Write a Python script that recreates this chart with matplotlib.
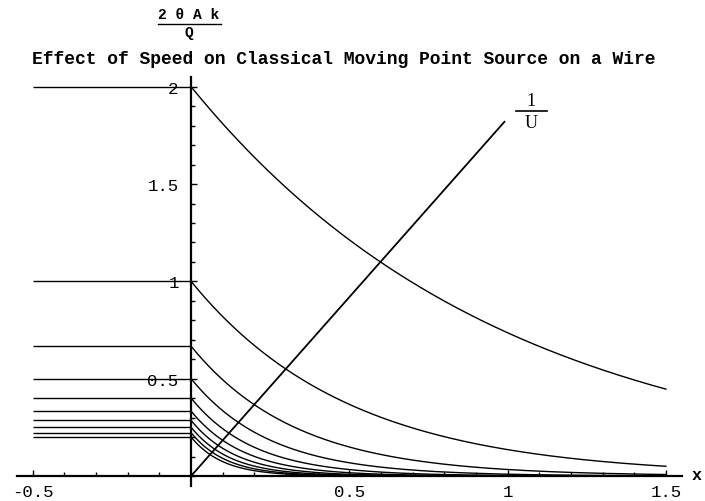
import numpy as np
import matplotlib
matplotlib.use("Agg")
import matplotlib.pyplot as plt
from matplotlib.ticker import FixedLocator, MultipleLocator
from matplotlib.lines import Line2D

# ---- data ----
speeds_U = [0.5, 1.0, 1.5, 2.0, 2.5, 3.0, 3.5, 4.0, 4.5, 5.0]   # curve family parameter
x_left = [-0.5, 0.0]          # constant part ahead of the source
x_right_range = [0.0, 1.5]    # decaying part behind the source
diag_x = [0.0, 0.99]          # the "1/U" line
diag_y = [0.0, 1.82]
xtick_vals = [-0.5, 0.5, 1.0, 1.5]
xtick_labels = ["-0.5", "0.5", "1", "1.5"]
ytick_vals = [0.5, 1.0, 1.5, 2.0]
ytick_labels = ["0.5", "1", "1.5", "2"]
title = "Effect of Speed on Classical Moving Point Source on a Wire"

W, H = 705, 502
fig = plt.figure(figsize=(W / 100, H / 100), dpi=100)
ax = fig.add_axes([16.7 / W, 1 - 486.7 / H, (681.7 - 16.7) / W, (486.7 - 78) / H])
ax.set_xlim(-0.551, 1.55)
ax.set_ylim(-0.05, 2.05)

lw = 1.0
xr = np.linspace(x_right_range[0], x_right_range[1], 400)
for U in speeds_U:
    level = 1.0 / U
    ax.plot(x_left, [level, level], color="black", lw=lw, solid_capstyle="butt")
    ax.plot(xr, level * np.exp(-2 * U * xr), color="black", lw=lw)

ax.plot(diag_x, diag_y, color="black", lw=1.3)

# axes through origin
for s in ["top", "right"]:
    ax.spines[s].set_visible(False)
ax.spines["left"].set_position(("data", 0))
ax.spines["bottom"].set_position(("data", 0))
ax.spines["left"].set_linewidth(1.6)
ax.spines["bottom"].set_linewidth(1.6)

mono = "Liberation Mono"
ax.xaxis.set_major_locator(FixedLocator(xtick_vals))
ax.set_xticklabels(xtick_labels, family=mono, fontsize=12.5)
ax.xaxis.set_minor_locator(MultipleLocator(0.1))
ax.yaxis.set_major_locator(FixedLocator(ytick_vals))
ax.set_yticklabels(ytick_labels, family=mono, fontsize=12.5)
ax.yaxis.set_minor_locator(MultipleLocator(0.1))
ax.tick_params(axis="both", which="major", direction="in", length=4, width=1)
ax.tick_params(axis="both", which="minor", direction="in", length=3, width=1)
ax.tick_params(axis="x", which="major", pad=6)
ax.tick_params(axis="y", which="major", pad=9)

# title and y label (fraction)
fig.text(344 / W, 1 - 60 / H, title, family=mono, weight="bold", fontsize=13,
         ha="center", va="center")
fig.text(189 / W, 1 - 15 / H, "2 θ A k", family=mono, weight="bold", fontsize=10.5,
         ha="center", va="center")
fig.add_artist(Line2D([158 / W, 221 / W], [1 - 25 / H, 1 - 25 / H], color="black", lw=1.0))
fig.text(189 / W, 1 - 33.5 / H, "Q", family=mono, weight="bold", fontsize=10.5,
         ha="center", va="center")

# 1/U label
serif = "Liberation Serif"
fig.text(531 / W, 1 - 101 / H, "1", family=serif, fontsize=13, ha="center", va="center")
fig.add_artist(Line2D([516 / W, 547 / W], [1 - 111.5 / H, 1 - 111.5 / H], color="black", lw=1.2))
fig.text(531 / W, 1 - 123 / H, "U", family=serif, fontsize=13, ha="center", va="center")

# x axis label at the right end of the axis
fig.text(692 / W, 1 - 476 / H, "x", family=mono, weight="bold", fontsize=12,
         ha="left", va="center")

fig.savefig("out.png", dpi=100)
